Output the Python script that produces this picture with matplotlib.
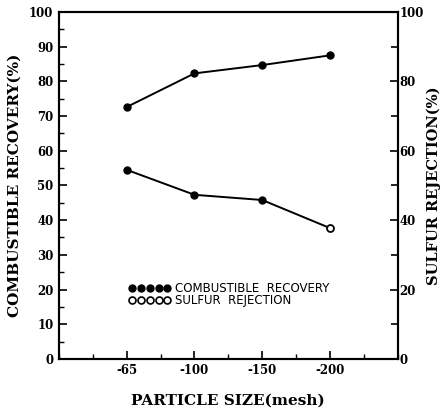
import matplotlib.pyplot as plt
from matplotlib.ticker import MultipleLocator, FixedLocator

# data
sizes = ['-65', '-100', '-150', '-200']
positions = [1, 2, 3, 4]
recovery = [72.6, 82.3, 84.7, 87.5]
rejection = [54.5, 47.3, 45.8, 37.7]

serif = 'DejaVu Serif'

fig = plt.figure(figsize=(4.43, 4.13), dpi=100)
ax = fig.add_axes([0.133, 0.131, 0.765, 0.840])

ax.plot(positions, recovery, color='k', linewidth=1.4, marker='o',
        markersize=5, markerfacecolor='k', markeredgecolor='k')
ax.plot(positions[:3], rejection[:3], color='k', linewidth=1.4, marker='o',
        markersize=5, markerfacecolor='k', markeredgecolor='k')
ax.plot(positions[2:], rejection[2:], color='k', linewidth=1.4)
ax.plot(positions[3], rejection[3], marker='o', markersize=5,
        markerfacecolor='white', markeredgecolor='k', markeredgewidth=1.3)

ax.set_xlim(0, 5)
ax.set_ylim(0, 100)

ax.xaxis.set_major_locator(FixedLocator(positions))
ax.xaxis.set_minor_locator(MultipleLocator(0.5))
ax.set_xticklabels(sizes)
ax.yaxis.set_major_locator(MultipleLocator(10))
ax.yaxis.set_minor_locator(MultipleLocator(5))

ax.tick_params(axis='both', which='major', direction='in', length=6, width=1.2,
               labelsize=8.5, pad=4)
ax.tick_params(axis='both', which='minor', direction='in', length=3.5, width=1.0)
ax.tick_params(axis='y', which='both', right=False)
ax.tick_params(axis='x', which='both', top=False)
for lab in ax.get_xticklabels() + ax.get_yticklabels():
    lab.set_fontweight('bold')
    lab.set_family(serif)

for sp in ax.spines.values():
    sp.set_linewidth(1.5)

ax2 = ax.twinx()
ax2.set_ylim(0, 100)
ax2.yaxis.set_major_locator(MultipleLocator(20))
ax2.yaxis.set_minor_locator(MultipleLocator(10))
ax2.tick_params(axis='y', which='major', direction='in', length=6, width=1.2,
                labelsize=8.5, pad=1)
ax2.tick_params(axis='y', which='minor', direction='in', length=5, width=1.2)
for lab in ax2.get_yticklabels():
    lab.set_fontweight('bold')
    lab.set_family(serif)
for sp in ax2.spines.values():
    sp.set_linewidth(1.5)

ax.set_ylabel('COMBUSTIBLE RECOVERY(%)', fontsize=11, fontweight='bold',
              family=serif, labelpad=5)
ax2.set_ylabel('SULFUR REJECTION(%)', fontsize=10.5, fontweight='bold',
               family=serif, labelpad=2)
ax.set_xlabel('PARTICLE SIZE(mesh)', fontsize=11, fontweight='bold',
              family=serif, labelpad=12)

# legend drawn as two rows of markers + text
legend_x = [1.08, 1.21, 1.34, 1.47, 1.60]
ax.plot(legend_x, [20.4] * 5, linestyle='none', marker='o',
        markersize=5, markerfacecolor='k', markeredgecolor='k')
ax.plot(legend_x, [16.9] * 5, linestyle='none', marker='o',
        markersize=5, markerfacecolor='white', markeredgecolor='k',
        markeredgewidth=1.2)
ax.text(1.71, 20.4, 'COMBUSTIBLE  RECOVERY', fontsize=8.5, va='center',
        family='DejaVu Sans')
ax.text(1.71, 16.9, 'SULFUR  REJECTION', fontsize=8.5, va='center',
        family='DejaVu Sans')

fig.savefig('out.png', dpi=100)
